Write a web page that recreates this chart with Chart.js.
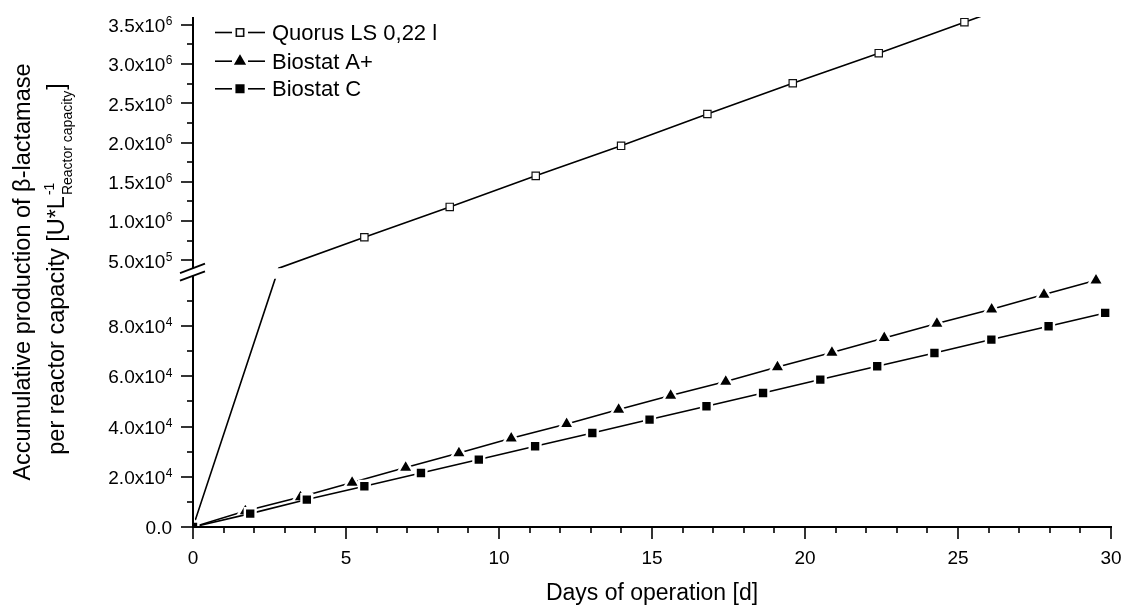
<!DOCTYPE html>
<html>
<head>
<meta charset="utf-8">
<script src="https://cdn.jsdelivr.net/npm/chart.js@4.4.1/dist/chart.umd.min.js"></script>
<style>
  html, body { margin: 0; padding: 0; background: #fff; }
  #wrap { width: 1123px; height: 608px; position: relative; }
</style>
</head>
<body>
<div id="wrap"><canvas id="chart" width="1123" height="608"></canvas></div>
<script>
// ---- data -------------------------------------------------------------
const seriesNames = ['Quorus LS 0,22 l', 'Biostat A+', 'Biostat C'];

const quorusDays   = [0, 2.80, 5.60, 8.39, 11.20, 13.99, 16.81, 19.60, 22.41, 25.21, 28.00];
const quorusValues = [0, 4.0e5, 7.94e5, 1.18e6, 1.576e6, 1.959e6, 2.364e6, 2.756e6, 3.139e6, 3.534e6, 3.92e6];

const biostatAPlusDays   = [0, 1.71, 3.51, 5.20, 6.95, 8.69, 10.40, 12.21, 13.91, 15.61, 17.41, 19.10, 20.88, 22.59, 24.31, 26.10, 27.81, 29.51];
const biostatAPlusValues = [0, 6370, 11950, 17680, 23650, 29470, 35320, 41020, 46750, 52320, 57900, 63710, 69440, 75260, 80990, 86690, 92540, 98240];

const biostatCDays   = [0, 1.87, 3.72, 5.60, 7.45, 9.34, 11.18, 13.05, 14.92, 16.78, 18.63, 20.50, 22.36, 24.23, 26.09, 27.96, 29.81];
const biostatCValues = [0, 5330, 10910, 16210, 21500, 26840, 32130, 37430, 42770, 48060, 53360, 58700, 63990, 69290, 74620, 79920, 85220];

// ---- axes -------------------------------------------------------------
const xTickValues = [0, 5, 10, 15, 20, 25, 30];
const xTickLabels = ['0', '5', '10', '15', '20', '25', '30'];

const yTickValues = [0, 2e4, 4e4, 6e4, 8e4, 5e5, 1e6, 1.5e6, 2e6, 2.5e6, 3e6, 3.5e6];
const yTickLabels = ['0.0', '2.0x10^4', '4.0x10^4', '6.0x10^4', '8.0x10^4',
                     '5.0x10^5', '1.0x10^6', '1.5x10^6', '2.0x10^6', '2.5x10^6', '3.0x10^6', '3.5x10^6'];

// the y axis is broken: a low segment and a high segment share the height
const LOWER_RANGE = [0, 1e5];
const UPPER_RANGE = [4e5, 3.6e6];
const BREAK_GAP = 0.015;          // fraction of the axis height left for the break
const LOWER_MINOR_STEP = 1e4;
const UPPER_MINOR_STEP = 2.5e5;

const xTitle = 'Days of operation [d]';
const yTitleLine1 = 'Accumulative production of \u03B2-lactamase';
const yTitleLine2 = 'per reactor capacity [U*L';
const yTitleSup = '-1';
const yTitleSub = 'Reactor capacity';
const yTitleClose = ']';

const FONT = '"Liberation Sans", Arial, Helvetica, sans-serif';

// ---- broken linear scale ---------------------------------------------
class BrokenLinearScale extends Chart.LinearScale {
  determineDataLimits() {
    this.min = LOWER_RANGE[0];
    this.max = UPPER_RANGE[1];
  }
  buildTicks() {
    return yTickValues.map(v => ({ value: v }));
  }
  _decimalFor(v) {
    const half = (1 - BREAK_GAP) / 2;
    if (v <= LOWER_RANGE[1]) return (v - LOWER_RANGE[0]) / (LOWER_RANGE[1] - LOWER_RANGE[0]) * half;
    if (v >= UPPER_RANGE[0]) return half + BREAK_GAP + (v - UPPER_RANGE[0]) / (UPPER_RANGE[1] - UPPER_RANGE[0]) * half;
    return half + (v - LOWER_RANGE[1]) / (UPPER_RANGE[0] - LOWER_RANGE[1]) * BREAK_GAP;
  }
  getPixelForValue(v) {
    if (v === null || v === undefined || isNaN(v)) return NaN;
    return this.getPixelForDecimal(this._decimalFor(v));
  }
  getValueForPixel(p) {
    const d = this.getDecimalForPixel(p);
    const half = (1 - BREAK_GAP) / 2;
    if (d <= half) return LOWER_RANGE[0] + d / half * (LOWER_RANGE[1] - LOWER_RANGE[0]);
    if (d >= half + BREAK_GAP) return UPPER_RANGE[0] + (d - half - BREAK_GAP) / half * (UPPER_RANGE[1] - UPPER_RANGE[0]);
    return LOWER_RANGE[1] + (d - half) / BREAK_GAP * (UPPER_RANGE[0] - LOWER_RANGE[1]);
  }
}
BrokenLinearScale.id = 'brokenLinear';
BrokenLinearScale.defaults = Chart.LinearScale.defaults;
Chart.register(BrokenLinearScale);

const toPoints = (xs, ys) => xs.map((x, i) => ({ x, y: ys[i] }));
const inBreak = v => v > LOWER_RANGE[1] && v <= UPPER_RANGE[0];

const datasets = [
  {
    label: seriesNames[0],
    data: toPoints(quorusDays, quorusValues),
    borderColor: '#000', borderWidth: 1.6,
    pointStyle: 'rect',
    pointRadius: c => (c.raw && inBreak(c.raw.y)) ? 0 : 5.2,
    pointBackgroundColor: '#fff', pointBorderColor: '#111', pointBorderWidth: 1.2,
    order: 3, clip: 0, crossesBreak: true
  },
  {
    label: seriesNames[1],
    data: toPoints(biostatAPlusDays, biostatAPlusValues),
    borderColor: '#000', borderWidth: 1.6,
    pointStyle: 'triangle', pointRadius: 8.7,
    pointBackgroundColor: '#000', pointBorderColor: '#fff', pointBorderWidth: 2.4,
    order: 2, clip: 0
  },
  {
    label: seriesNames[2],
    data: toPoints(biostatCDays, biostatCValues),
    borderColor: '#000', borderWidth: 1.6,
    pointStyle: 'rect', pointRadius: 7.6,
    pointBackgroundColor: '#000', pointBorderColor: '#fff', pointBorderWidth: 2.4,
    order: 1, clip: 0
  }
];
datasets.forEach(d => { d.fill = false; d.tension = 0; d.pointHoverRadius = d.pointRadius; });

// ---- text helpers -----------------------------------------------------
function drawSciLabel(ctx, label, xRight, yMid) {
  const parts = label.split('^');
  ctx.font = '19px ' + FONT;
  const wBase = ctx.measureText(parts[0]).width;
  let wSup = 0;
  if (parts[1]) { ctx.font = '12px ' + FONT; wSup = ctx.measureText(parts[1]).width; }
  const x0 = xRight - wBase - wSup;
  const base = yMid + 7.2;
  ctx.textAlign = 'left';
  ctx.textBaseline = 'alphabetic';
  ctx.font = '19px ' + FONT;
  ctx.fillText(parts[0], x0, base);
  if (parts[1]) {
    ctx.font = '12px ' + FONT;
    ctx.fillText(parts[1], x0 + wBase + 0.5, base - 6.8);
  }
}

// axes, break marks, ticks, labels, titles and legend
const decorations = {
  id: 'decorations',
  beforeDatasetDraw(chart, args) {
    const ds = chart.data.datasets[args.index];
    if (!ds.crossesBreak) return;
    const { ctx, chartArea: a } = chart;
    const y = chart.scales.y;
    const gTop = y.getPixelForValue(UPPER_RANGE[0]);
    const gBot = y.getPixelForValue(LOWER_RANGE[1]) + 3;
    ctx.save();
    ctx.beginPath();
    ctx.rect(a.left - 30, a.top - 30, a.width + 60, gTop - a.top + 30);
    ctx.rect(a.left - 30, gBot, a.width + 60, a.bottom - gBot + 30);
    ctx.clip();
  },
  afterDatasetDraw(chart, args) {
    if (chart.data.datasets[args.index].crossesBreak) chart.ctx.restore();
  },
  afterDraw(chart) {
    const { ctx, chartArea: a } = chart;
    const x = chart.scales.x, y = chart.scales.y;
    ctx.save();
    ctx.strokeStyle = '#000';
    ctx.fillStyle = '#000';
    ctx.lineCap = 'butt';

    const yBreakTop = y.getPixelForValue(UPPER_RANGE[0]);
    const yBreakBot = y.getPixelForValue(LOWER_RANGE[1]);

    // axis lines
    ctx.lineWidth = 2;
    ctx.beginPath();
    ctx.moveTo(a.left - 1, a.bottom); ctx.lineTo(a.right + 1, a.bottom);
    ctx.moveTo(a.left, a.bottom + 1); ctx.lineTo(a.left, yBreakBot);
    ctx.moveTo(a.left, yBreakTop); ctx.lineTo(a.left, a.top);
    ctx.stroke();

    // break marks
    ctx.lineWidth = 1.8;
    [yBreakTop, yBreakBot].forEach(yy => {
      ctx.beginPath();
      ctx.moveTo(a.left - 13, yy + 13 * 0.376);
      ctx.lineTo(a.left + 12, yy - 12 * 0.376);
      ctx.stroke();
    });

    // ticks
    ctx.lineWidth = 1.6;
    const seg = (x1, y1, x2, y2) => { ctx.beginPath(); ctx.moveTo(x1, y1); ctx.lineTo(x2, y2); ctx.stroke(); };
    for (let d = x.min; d <= x.max; d += 1) {
      const px = Math.round(x.getPixelForValue(d));
      const major = xTickValues.includes(d);
      seg(px, a.bottom, px, a.bottom + (major ? 12 : 6));
    }
    y.ticks.forEach(t => {
      const py = Math.round(y.getPixelForValue(t.value));
      seg(a.left, py, a.left - 12, py);
    });
    for (let v = LOWER_RANGE[0] + LOWER_MINOR_STEP; v < LOWER_RANGE[1]; v += LOWER_MINOR_STEP) {
      if (yTickValues.includes(v)) continue;
      const py = Math.round(y.getPixelForValue(v));
      seg(a.left, py, a.left - 6, py);
    }
    for (let v = yTickValues[5] + UPPER_MINOR_STEP; v < UPPER_RANGE[1]; v += 2 * UPPER_MINOR_STEP) {
      const py = Math.round(y.getPixelForValue(v));
      seg(a.left, py, a.left - 6, py);
    }

    // x tick labels
    ctx.font = '19px ' + FONT;
    ctx.textAlign = 'center';
    ctx.textBaseline = 'alphabetic';
    xTickValues.forEach((v, i) => ctx.fillText(xTickLabels[i], x.getPixelForValue(v), a.bottom + 36.5));

    // y tick labels
    y.ticks.forEach((t, i) => drawSciLabel(ctx, yTickLabels[i], a.left - 21, y.getPixelForValue(t.value)));

    // x title
    ctx.font = '23px ' + FONT;
    ctx.textAlign = 'center';
    ctx.fillText(xTitle, (a.left + a.right) / 2, a.bottom + 73);

    // y title, two rotated lines
    const yMid = (a.top + a.bottom) / 2;
    ctx.save();
    ctx.translate(30, yMid);
    ctx.rotate(-Math.PI / 2);
    ctx.font = '23.5px ' + FONT;
    ctx.textAlign = 'center';
    ctx.fillText(yTitleLine1, 0, 0);
    ctx.restore();

    ctx.save();
    ctx.translate(64, yMid - 2);
    ctx.rotate(-Math.PI / 2);
    ctx.textAlign = 'left';
    ctx.font = '23.5px ' + FONT;
    const wMain = ctx.measureText(yTitleLine2).width;
    const wClose = ctx.measureText(yTitleClose).width;
    ctx.font = '14px ' + FONT;
    const wSup = ctx.measureText(yTitleSup).width;
    const wSub = ctx.measureText(yTitleSub).width;
    const total = wMain + Math.max(wSup, wSub) + wClose;
    let cx = -total / 2;
    ctx.font = '23.5px ' + FONT;
    ctx.fillText(yTitleLine2, cx, 0);
    cx += wMain;
    ctx.font = '14px ' + FONT;
    ctx.fillText(yTitleSup, cx + 1, -10);
    ctx.fillText(yTitleSub, cx + 1, 8);
    cx += Math.max(wSup, wSub) + 2;
    ctx.font = '23.5px ' + FONT;
    ctx.fillText(yTitleClose, cx, 0);
    ctx.restore();

    // legend
    const rowY = [32.5, 61.2, 88.8];
    chart.data.datasets.forEach((ds, i) => {
      const ry = rowY[i];
      ctx.strokeStyle = ds.borderColor;
      ctx.lineWidth = ds.borderWidth;
      seg(215, ry, 232, ry);
      seg(248, ry, 265, ry);
      const r = typeof ds.pointRadius === 'function' ? 5.2 : ds.pointRadius;
      ctx.fillStyle = ds.pointBackgroundColor;
      ctx.strokeStyle = ds.pointBorderColor;
      Chart.helpers.drawPoint(ctx, { pointStyle: ds.pointStyle, rotation: 0, radius: r, borderWidth: ds.pointBorderWidth }, 240, ry);
      ctx.fillStyle = '#000';
      ctx.font = '22px ' + FONT;
      ctx.textAlign = 'left';
      ctx.fillText(ds.label, 272, ry + 7.5);
    });

    ctx.restore();
  }
};

new Chart(document.getElementById('chart'), {
  type: 'line',
  data: { datasets },
  options: {
    responsive: false,
    animation: false,
    devicePixelRatio: 1,
    layout: { padding: { top: 17, right: 12, left: 0, bottom: 0 } },
    plugins: { legend: { display: false }, tooltip: { enabled: false } },
    scales: {
      x: {
        type: 'linear', min: 0, max: 30,
        grid: { display: false, drawTicks: false }, border: { display: false },
        ticks: { display: false },
        afterFit(s) { s.height = 81; }
      },
      y: {
        type: 'brokenLinear', min: LOWER_RANGE[0], max: UPPER_RANGE[1],
        grid: { display: false, drawTicks: false }, border: { display: false },
        ticks: { display: false },
        afterFit(s) { s.width = 193; }
      }
    }
  },
  plugins: [decorations]
});
</script>
</body>
</html>
